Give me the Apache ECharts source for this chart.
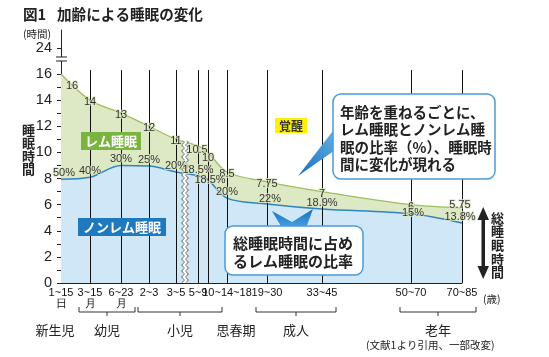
<!DOCTYPE html>
<html><head><meta charset="utf-8">
<script src="https://cdn.jsdelivr.net/npm/echarts@6/dist/echarts.min.js"></script>
<style>html,body{margin:0;padding:0;background:#fff}#c{width:549px;height:357px}</style>
</head><body><div id="c"></div>
<script>
// ---- data ----
const ageLabels = ['1~15\n日','3~15\n月','6~23\n月','2~3','3~5','5~9','10~14','14~18','19~30','33~45','50~70','70~85'];
const agePos = [0,29,60,88,115,137,147,166,206,261,350,401];          // non-linear age scale position
const totalSleep = [16,14,13,12,11,10.5,10,8.5,7.75,7,6,5.75];        // hours
const nremSleep = [7.95,8.1,9.0,8.95,8.5,8.2,7.9,6.5,6.05,5.67,5.3,4.6]; // hours
const remPctLabels = ['50%','40%','30%','25%','20%','18.5%','18.5%','20%','22%','18.9%','15%','13.8%'];
const yTickValues = [0,2,4,6,8,10,12,14,16,18];
const yTickLabels = ['0','2','4','6','8','10','12','14','16','24'];
const groupNames = ['新生児','幼児','小児','思春期','成人','老年'];
const groupFrom = [0,1,3,7,8,10];
const groupTo = [0,2,6,7,9,11];

// ---- style ----
const CJK = "'Noto Sans CJK JP','Noto Sans CJK SC',sans-serif";
const NUM = "'Liberation Sans Narrow','Arial Narrow','Liberation Sans',Arial,sans-serif";
const GREEN_FILL = '#dde9c5', GREEN_LINE = '#9dbf5c';
const BLUE_FILL = '#cfe7f7', BLUE_LINE = '#2f84c6';
const totNudge = {0:[11,12],5:[-1,4],6:[0,6],11:[-2,-3]};
const pctNudge = {0:[3,-6],6:[2,0],8:[3,-5],10:[2,-1],11:[-2,-6]};

const chart = echarts.init(document.getElementById('c'), null, {renderer:'canvas'});
chart.setOption({
  animation:false,
  grid:{left:61,right:87,top:30,bottom:74},
  xAxis:{type:'value',min:0,max:401,
    axisLine:{lineStyle:{color:'#222',width:1}},
    axisTick:{show:false}, splitLine:{show:false},
    axisLabel:{customValues:agePos, margin:4, fontFamily:NUM, fontSize:11, lineHeight:11, color:'#111',
      formatter:function(v){
        const i = agePos.indexOf(v);
        if (i === 6) return '';
        if (i === 7) return ageLabels[6] + ageLabels[7].slice(ageLabels[7].indexOf('~'));
        return i >= 0 ? ageLabels[i] : '';
      }}
  },
  yAxis:{type:'value',min:0,max:19.37,
    axisLine:{show:true,lineStyle:{color:'#222',width:1}},
    axisTick:{show:true,length:4,customValues:[0,1,2,3,4,5,6,7,8,9,10,11,12,13,14,15,16,18],lineStyle:{color:'#222'}},
    splitLine:{show:false},
    axisLabel:{customValues:yTickValues, margin:9, fontFamily:"'Liberation Sans',Arial,sans-serif", fontSize:14.5, color:'#222',
      formatter:function(v){ const i = yTickValues.indexOf(v); return i>=0 ? yTickLabels[i] : ''; }}
  },
  series:[
    {type:'line', z:2, smooth:0.35, symbol:'none', silent:true,
     data:agePos.map((x,i)=>[x,totalSleep[i]]),
     lineStyle:{color:GREEN_LINE,width:1.3}, areaStyle:{color:GREEN_FILL,opacity:1}},
    {type:'line', z:3, smooth:0.35, symbol:'none', silent:true,
     data:agePos.map((x,i)=>[x,nremSleep[i]]),
     lineStyle:{color:BLUE_LINE,width:1.5}, areaStyle:{color:BLUE_FILL,opacity:1}},
    {type:'line', z:4, symbol:'none', silent:true, data:[[0,0]], lineStyle:{width:0},
     markLine:{silent:true, symbol:['none','none'], label:{show:false}, emphasis:{disabled:true},
       lineStyle:{color:'#111',width:1,type:'solid'},
       data:agePos.slice(1).map(x=>[{coord:[x,0]},{coord:[x,16.3]}])}},
    {type:'scatter', z:6, symbolSize:1, silent:true, itemStyle:{color:'rgba(0,0,0,0)'},
     data:agePos.map((x,i)=>({value:[x,totalSleep[i]], label:{offset: totNudge[i] || [0,2]}})),
     label:{show:true, position:'inside', formatter:p=>String(totalSleep[p.dataIndex]),
       fontFamily:NUM, fontSize:11, color:'#000', textBorderColor:GREEN_FILL, textBorderWidth:2}},
    {type:'scatter', z:6, symbolSize:1, silent:true, itemStyle:{color:'rgba(0,0,0,0)'},
     data:agePos.map((x,i)=>({value:[x,nremSleep[i]], label:{offset: pctNudge[i] || [0,-6]}})),
     label:{show:true, position:'inside', formatter:p=>remPctLabels[p.dataIndex],
       fontFamily:NUM, fontSize:11, color:'#000', textBorderColor:GREEN_FILL, textBorderWidth:2}}
  ]
});

function px(x,y){ return chart.convertToPixel({gridIndex:0},[x,y]); }
const g = [];
const T = (x,y,text,font,extra)=>g.push(Object.assign({type:'text',x:x,y:y,z:100,
  style:Object.assign({text:text,font:font,fill:'#222',align:'left',verticalAlign:'top'},extra||{})}));

// title & small texts
T(23,7,'図1','bold 14.6px '+CJK,{fill:'#222'});
T(57,7,'加齢による睡眠の変化','bold 14.6px '+CJK,{fill:'#222'});
T(23,29,'(時間)','10.5px '+CJK);
T(22,124,'睡\n眠\n時\n間','bold 13px '+CJK,{lineHeight:13,fill:'#222'});
T(483,294,'(歳)','10.5px '+CJK);
T(366,340,'(文献1より引用、一部改変)','10.5px '+CJK);

// y-axis break
const [ax0, yb] = px(0,17.15);
g.push({type:'rect',z:100,shape:{x:ax0-6,y:yb-2,width:12,height:4},style:{fill:'#fff'}});
g.push({type:'line',z:101,shape:{x1:ax0-5,y1:yb-2,x2:ax0+6,y2:yb-2},style:{stroke:'#222',lineWidth:1}});
g.push({type:'line',z:101,shape:{x1:ax0-5,y1:yb+2,x2:ax0+6,y2:yb+2},style:{stroke:'#222',lineWidth:1}});

// wavy x break (below the value labels)
const cx = px((agePos[4]+agePos[5])/2 - 2, 0)[0];
const wTop = px(0,10.9)[1], wBot = px(0,0)[1];
g.push({type:'rect',z:5,shape:{x:cx-2,y:wTop,width:4,height:wBot-wTop},style:{fill:'#fff'}});
[-2,2].forEach(d=>{
  const pts=[]; for(let y=wTop;y<=wBot;y+=1){ pts.push([cx+d+1.1*Math.sin((y-wTop)*Math.PI/3),y]); }
  g.push({type:'polyline',z:5,shape:{points:pts},style:{stroke:'#333',lineWidth:0.8,fill:null}});
});

// age-group brackets
const axisY = px(0,0)[1];
const groupNudge = [-6,0,0,9,0,0];
groupNames.forEach((name,k)=>{
  const x1 = px(agePos[groupFrom[k]],0)[0], x2 = px(agePos[groupTo[k]],0)[0];
  let cxg;
  if (groupFrom[k] !== groupTo[k]) {
    const bl = x1-11, br = x2+14; cxg = (bl+br)/2;
    g.push({type:'polyline',z:100,shape:{points:[[bl,axisY+24],[bl,axisY+29],[br,axisY+29],[br,axisY+24]]},style:{stroke:'#333',lineWidth:1,fill:null}});
    g.push({type:'line',z:100,shape:{x1:cxg,y1:axisY+29,x2:cxg,y2:axisY+33},style:{stroke:'#333',lineWidth:1}});
  } else { cxg = x1 + groupNudge[k]; }
  T(cxg, axisY+47, name, '13px '+CJK, {align:'center',verticalAlign:'middle'});
});

// area labels
T(81,132,'レム睡眠','bold 13px '+CJK,{fill:'#fff',backgroundColor:'#7ab43f',padding:[3,4,2,4]});
T(78,218,'ノンレム睡眠','bold 13px '+CJK,{fill:'#fff',backgroundColor:'#1e79bf',padding:[3,5,2,5]});
T(275,118,'覚醒','bold 12px '+CJK,{fill:'#333',backgroundColor:'#fff200',padding:[2,4,1,4]});

// callout 1
const grad = new echarts.graphic.LinearGradient(0,1,1,0,[{offset:0,color:'#1570bd'},{offset:1,color:'#6db6e8'}]);
g.push({type:'polygon',z:100,shape:{points:[[336,127],[338,148],[298,176]]},style:{fill:grad}});
g.push({type:'rect',z:101,shape:{x:333,y:94,width:162,height:85,r:8},style:{fill:'#fff',stroke:'#4a9bd6',lineWidth:1.5}});
T(340,103.5,'年齢を重ねるごとに、\nレム睡眠とノンレム睡\n眠の比率（%）、睡眠時\n間に変化が現れる','bold 14.5px '+CJK,{lineHeight:17.5,fill:'#222'});
g[g.length-1].z = 102;

// callout 2
const grad2 = new echarts.graphic.LinearGradient(0,0,0,1,[{offset:0,color:'#1570bd'},{offset:1,color:'#4aa3e0'}]);
g.push({type:'polygon',z:100,shape:{points:[[282,228],[272,211],[292,222],[313,209],[306,228]]},style:{fill:grad2}});
g.push({type:'rect',z:101,shape:{x:225,y:226,width:138,height:49,r:8},style:{fill:'#fff',stroke:'#4a9bd6',lineWidth:1.5}});
T(233,234,'総睡眠時間に占め\nるレム睡眠の比率','bold 15px '+CJK,{lineHeight:18,fill:'#222'});
g[g.length-1].z = 102;

// right double arrow + label
g.push({type:'rect',z:100,shape:{x:481.5,y:218,width:3.5,height:50},style:{fill:'#222'}});
g.push({type:'polygon',z:100,shape:{points:[[477.5,220],[483.2,207],[489,220]]},style:{fill:'#222'}});
g.push({type:'polygon',z:100,shape:{points:[[477.5,266],[483.2,279],[489,266]]},style:{fill:'#222'}});
T(491,211,'総\n睡\n眠\n時\n間','bold 13px '+CJK,{lineHeight:13.6,fill:'#222'});

chart.setOption({graphic:g});
</script></body></html>
